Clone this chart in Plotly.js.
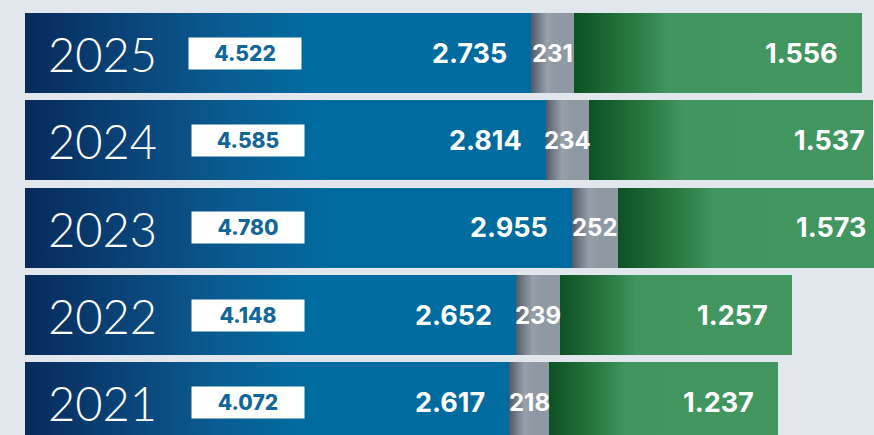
<!DOCTYPE html>
<html>
<head>
<meta charset="utf-8">
<script src="https://cdn.plot.ly/plotly-3.0.1.min.js"></script>
<style>
html,body{margin:0;padding:0;background:#e1e7ec;}
#chart{width:874px;height:435px;}
</style>
</head>
<body>
<div id="chart"></div>
<script>
// ---- data ----
const years = ['2025', '2024', '2023', '2022', '2021'];
const totals = [4522, 4585, 4780, 4148, 4072];
const blueVals = [2735, 2814, 2955, 2652, 2617];
const greyVals = [231, 234, 252, 239, 218];
const greenVals = [1556, 1537, 1573, 1257, 1237];
const categoryOrder = ['2021', '2022', '2023', '2024', '2025'];

// ---- formatting ----
function fmt(v) {
  const s = String(v);
  return s.length > 3 ? s.slice(0, s.length - 3) + '.' + s.slice(-3) : s;
}

const W = 874, H = 435;
const pxPerUnit = 0.185;
const leftPx = 25;
const xMin = -leftPx / pxPerUnit;
const xMax = xMin + W / pxPerUnit;

const numFont = {family: 'Inter, "Open Sans", sans-serif', size: 27, color: '#ffffff', weight: 700};
const greyFont = {family: 'Inter, "Open Sans", sans-serif', size: 24, color: '#ffffff', weight: 700};

const traces = [
  {type: 'bar', orientation: 'h', y: years, x: blueVals, name: 'blue',
   marker: {color: '#006b9f', line: {width: 0}}, hoverinfo: 'x'},
  {type: 'bar', orientation: 'h', y: years, x: greyVals, name: 'grey',
   marker: {color: '#8f99a4', line: {width: 0}}, hoverinfo: 'x'},
  {type: 'bar', orientation: 'h', y: years, x: greenVals, name: 'green',
   marker: {color: '#42955f', line: {width: 0}}, hoverinfo: 'x'}
];

const annotations = [];
years.forEach((yr, i) => {
  const yi = categoryOrder.indexOf(yr);
  // year label
  annotations.push({xref: 'paper', yref: 'y', x: 46 / W, y: yi, xanchor: 'left', yanchor: 'middle',
    text: yr, showarrow: false, yshift: -1,
    font: {family: 'Lato, Roboto, sans-serif', size: 47, color: '#ffffff', weight: 300}});
  // total box
  annotations.push({xref: 'paper', yref: 'y', x: (i === 0 ? 244.5 : 248) / W, y: yi, xanchor: 'center', yanchor: 'middle',
    text: fmt(totals[i]), showarrow: false, bgcolor: '#ffffff', width: 112, height: 31, borderpad: 0,
    font: {family: 'Inter, "Open Sans", sans-serif', size: 21, color: '#12679a', weight: 800}});
  // blue value
  annotations.push({xref: 'x', yref: 'y', x: blueVals[i], y: yi, xanchor: 'right', yanchor: 'middle',
    xshift: -22, text: fmt(blueVals[i]), showarrow: false, font: numFont});
  // grey value
  annotations.push({xref: 'x', yref: 'y', x: blueVals[i] + greyVals[i] / 2, y: yi, xanchor: 'center', yanchor: 'middle',
    text: fmt(greyVals[i]), showarrow: false, font: greyFont});
  // green value
  annotations.push({xref: 'x', yref: 'y', x: Math.min(totals[i], xMax), y: yi, xanchor: 'right', yanchor: 'middle',
    xshift: totals[i] > xMax - 50 ? -6 : -22, text: fmt(greenVals[i]), showarrow: false, font: numFont});
});

const layout = {
  width: W, height: H,
  margin: {l: 0, r: 0, t: 0, b: 0},
  paper_bgcolor: '#e1e7ec', plot_bgcolor: '#e1e7ec',
  barmode: 'stack', bargap: 0.084,
  showlegend: false,
  xaxis: {range: [xMin, xMax], visible: false, showgrid: false, zeroline: false, fixedrange: true},
  yaxis: {type: 'category', categoryorder: 'array', categoryarray: categoryOrder,
          range: [-0.374, 4.607], visible: false, showgrid: false, zeroline: false, fixedrange: true},
  annotations: annotations
};

function addGradients(gd) {
  const NS = 'http://www.w3.org/2000/svg';
  const svg = gd.querySelector('svg.main-svg');
  let defs = svg.querySelector('defs');
  if (!defs) { defs = document.createElementNS(NS, 'defs'); svg.insertBefore(defs, svg.firstChild); }
  const grads = {
    gBlue: [[0, '#072b5a'], [0.2, '#0a4378'], [0.4, '#0a5c91'], [0.56, '#006b9f'], [1, '#006b9f']],
    gGrey: [[0, '#515967'], [0.18, '#737c89'], [0.38, '#96a0aa'], [0.6, '#8f99a4'], [1, '#8f99a4']],
    gGreen: [[0, '#0d5124'], [0.12, '#1d6934'], [0.24, '#2f8049'], [0.33, '#41955f'], [1, '#42965f']]
  };
  Object.keys(grads).forEach(id => {
    const lg = document.createElementNS(NS, 'linearGradient');
    lg.setAttribute('id', id);
    lg.setAttribute('x1', '0'); lg.setAttribute('y1', '0');
    lg.setAttribute('x2', '1'); lg.setAttribute('y2', '0');
    grads[id].forEach(s => {
      const st = document.createElementNS(NS, 'stop');
      st.setAttribute('offset', s[0]);
      st.setAttribute('stop-color', s[1]);
      lg.appendChild(st);
    });
    defs.appendChild(lg);
  });
  const ids = ['gBlue', 'gGrey', 'gGreen'];
  gd.querySelectorAll('.barlayer .trace').forEach((tr, ti) => {
    tr.querySelectorAll('path').forEach(p => { p.style.fill = 'url(#' + ids[ti] + ')'; });
  });
}

Plotly.newPlot('chart', traces, layout, {staticPlot: true, displayModeBar: false}).then(addGradients);
</script>
</body>
</html>
